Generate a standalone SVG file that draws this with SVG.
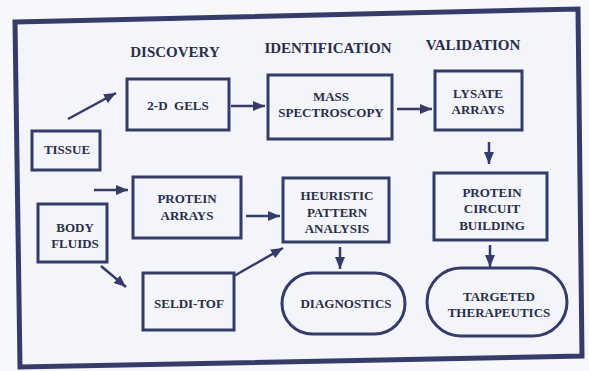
<svg xmlns="http://www.w3.org/2000/svg" width="589" height="371" viewBox="0 0 589 371">
<style>
.bg{fill:#f7f8fb}
.frame{fill:#f3f5fa;stroke:#353c6a;stroke-width:5;stroke-linejoin:miter}
.box{fill:none;stroke:#353c6a;stroke-width:3}
.t{font-family:"Liberation Serif","Times New Roman",serif;font-weight:bold;font-size:13px;fill:#2a2e4a;text-anchor:middle}
.h{font-family:"Liberation Serif","Times New Roman",serif;font-weight:bold;font-size:15px;fill:#2a2e4a;text-anchor:middle}
.c{stroke:#353c6a;stroke-width:2.5;fill:none;marker-end:url(#ah)}
</style>
<defs>
<marker id="ah" markerUnits="userSpaceOnUse" markerWidth="14" markerHeight="12" refX="12" refY="5" orient="auto">
<path d="M0,0 L12,5 L0,10 z" fill="#353c6a"/>
</marker>
</defs>
<rect class="bg" x="0" y="0" width="589" height="371"/>
<polygon class="frame" points="15,22 578,9 582,356 20,367"/>
<g id="headers">
<text class="h" x="175" y="57">DISCOVERY</text>
<text class="h" x="328" y="53">IDENTIFICATION</text>
<text class="h" x="473" y="50">VALIDATION</text>
</g>
<g id="tissue"><rect class="box" x="32" y="131" width="68" height="39"/><text class="t" x="67" y="154">TISSUE</text></g>
<g id="gels"><rect class="box" x="127" y="79" width="102" height="51"/><text class="t" x="178" y="110" xml:space="preserve">2-D  GELS</text></g>
<g id="mass"><rect class="box" x="268" y="75" width="124" height="64"/><text class="t" x="331" y="101">MASS</text><text class="t" x="331" y="117">SPECTROSCOPY</text></g>
<g id="lysate"><rect class="box" x="435" y="71" width="87" height="59"/><text class="t" x="478" y="98">LYSATE</text><text class="t" x="478" y="114">ARRAYS</text></g>
<g id="protein-arrays"><rect class="box" x="133" y="177" width="108" height="61"/><text class="t" x="187" y="203">PROTEIN</text><text class="t" x="187" y="220">ARRAYS</text></g>
<g id="body-fluids"><rect class="box" x="38" y="204" width="69" height="58"/><text class="t" x="75" y="232">BODY</text><text class="t" x="75" y="248">FLUIDS</text></g>
<g id="seldi"><rect class="box" x="143" y="273" width="91" height="57"/><text class="t" x="189" y="308">SELDI-TOF</text></g>
<g id="heuristic"><rect class="box" x="283" y="178" width="106" height="64"/><text class="t" x="337" y="200">HEURISTIC</text><text class="t" x="337" y="217">PATTERN</text><text class="t" x="337" y="233">ANALYSIS</text></g>
<g id="circuit"><rect class="box" x="434" y="173" width="113" height="67"/><text class="t" x="492" y="197">PROTEIN</text><text class="t" x="492" y="213">CIRCUIT</text><text class="t" x="492" y="230">BUILDING</text></g>
<g id="diagnostics"><rect class="box" x="282" y="273" width="123" height="61" rx="30.5" ry="30.5"/><text class="t" x="346" y="308">DIAGNOSTICS</text></g>
<g id="therapeutics"><rect class="box" x="427" y="268" width="140" height="68" rx="34" ry="34"/><text class="t" x="499" y="301">TARGETED</text><text class="t" x="499" y="317">THERAPEUTICS</text></g>
<g id="connectors">
<line class="c" x1="68" y1="119" x2="116" y2="93"/>
<line class="c" x1="231" y1="106" x2="265" y2="106"/>
<line class="c" x1="397" y1="109" x2="432" y2="109"/>
<line class="c" x1="489" y1="142" x2="489" y2="164"/>
<line class="c" x1="94" y1="190" x2="128" y2="190"/>
<line class="c" x1="246" y1="216" x2="280" y2="216"/>
<line class="c" x1="101" y1="266" x2="126" y2="287"/>
<line class="c" x1="234" y1="276" x2="283" y2="248"/>
<line class="c" x1="340" y1="247" x2="340" y2="269"/>
<line class="c" x1="490" y1="245" x2="490" y2="267"/>
</g>
</svg>
